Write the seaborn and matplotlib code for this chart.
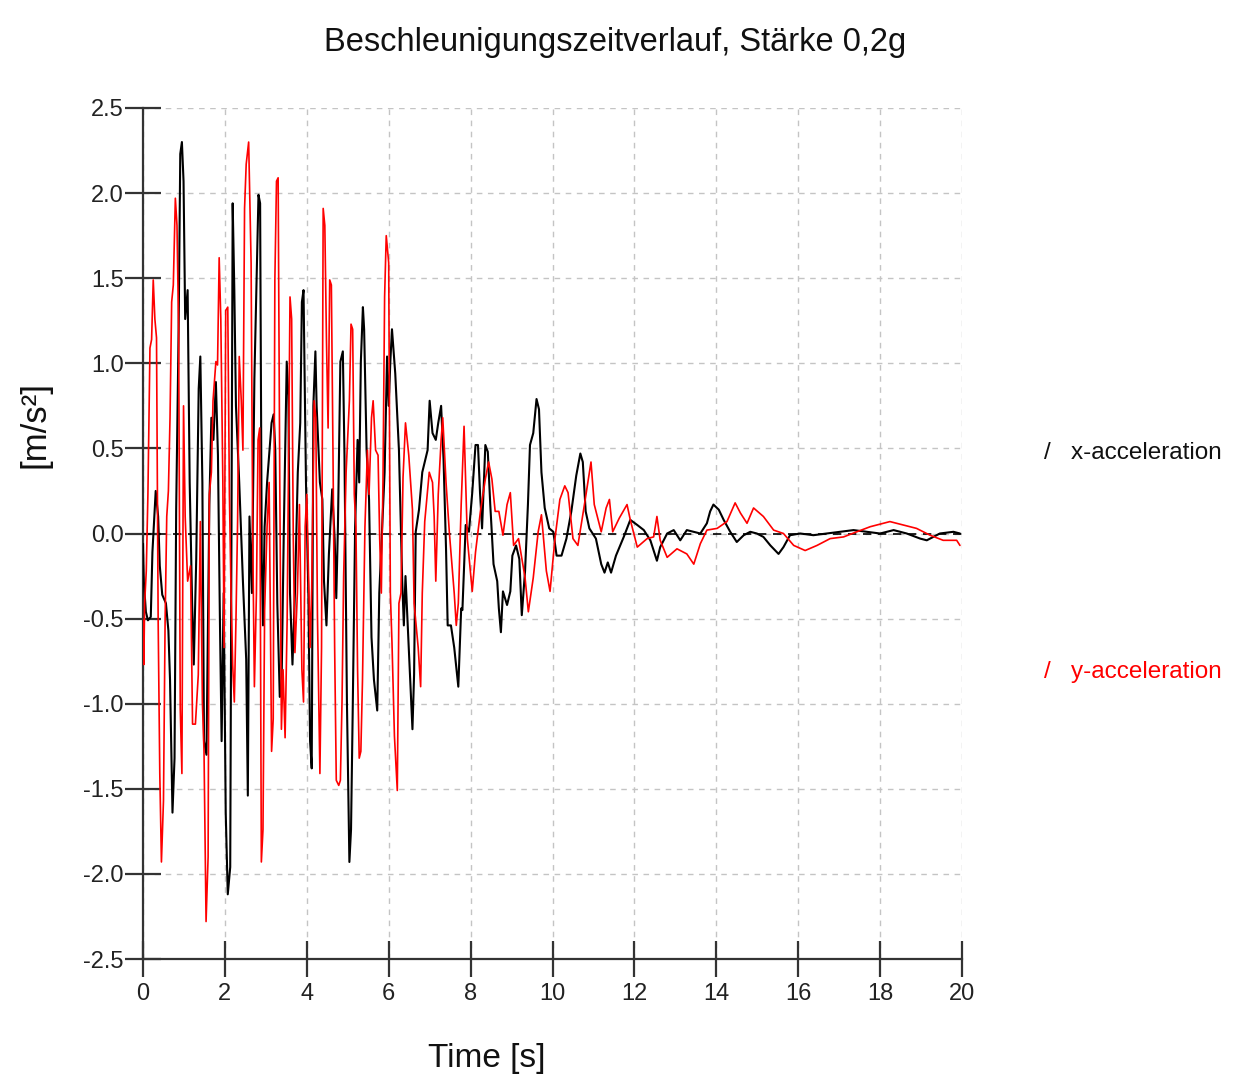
import matplotlib
matplotlib.use("Agg")
import matplotlib.pyplot as plt
import seaborn as sns
import pandas as pd
import numpy as np

# ---------------- data ----------------
x_time = [
    0.00, 0.02, 0.07, 0.12, 0.19, 0.23, 0.31, 0.37, 0.41, 0.47,
    0.56, 0.62, 0.66, 0.72, 0.77, 0.81, 0.87, 0.91, 0.95, 0.99,
    1.03, 1.09, 1.14, 1.20, 1.24, 1.30, 1.36, 1.40, 1.45, 1.49,
    1.55, 1.62, 1.67, 1.72, 1.78, 1.83, 1.88, 1.92, 1.97, 2.02,
    2.07, 2.13, 2.19,
    2.23, 2.27, 2.35, 2.44, 2.52, 2.56, 2.60, 2.66, 2.72, 2.77,
    2.82, 2.86, 2.90, 2.93, 2.97, 3.03, 3.14, 3.19, 3.23, 3.28,
    3.34, 3.38, 3.44, 3.51, 3.55, 3.59, 3.65, 3.71, 3.78, 3.84,
    3.88, 3.92, 3.98, 4.04, 4.08, 4.12, 4.16, 4.21,
    4.24, 4.32, 4.38, 4.42, 4.48, 4.54, 4.62, 4.68, 4.72, 4.76,
    4.82, 4.88, 4.92, 4.98, 5.04, 5.08, 5.12, 5.18, 5.24, 5.28,
    5.32, 5.37, 5.40, 5.46, 5.52, 5.58, 5.64, 5.72, 5.77, 5.84,
    5.90, 5.96, 6.00, 6.04,
    6.08, 6.16, 6.25, 6.33, 6.37, 6.41, 6.49, 6.58, 6.62, 6.66,
    6.74, 6.82, 6.95, 7.00, 7.07, 7.15, 7.21, 7.28, 7.34, 7.40,
    7.44, 7.52, 7.60, 7.70, 7.77,
    7.80, 7.88, 7.96, 8.04, 8.12, 8.18, 8.23, 8.28, 8.36, 8.42,
    8.48, 8.56, 8.65, 8.69, 8.74, 8.79, 8.89, 8.97, 9.02, 9.11,
    9.19, 9.25, 9.33, 9.40, 9.45, 9.53, 9.61, 9.67, 9.73, 9.81,
    9.92, 10.02, 10.10, 10.22, 10.34, 10.46, 10.58, 10.68, 10.74, 10.81,
    10.90, 11.06, 11.19, 11.27, 11.35, 11.43, 11.55,
    11.74, 11.90, 12.07, 12.23, 12.39, 12.47, 12.55, 12.63, 12.80, 12.96,
    13.12, 13.28, 13.45, 13.61, 13.77, 13.85, 13.93, 14.06, 14.18, 14.34,
    14.50, 14.67, 14.83, 14.99, 15.15, 15.32, 15.52, 15.64, 15.80, 16.05,
    16.37, 16.70, 17.02, 17.35, 17.67, 18.00, 18.33, 18.65, 18.98, 19.14,
    19.46, 19.79, 19.95,
]
x_accel = [
    -0.06, -0.28, -0.46, -0.51, -0.49, -0.11, 0.25, 0.10, -0.19, -0.36,
    -0.41, -0.57, -0.86, -1.64, -1.32, 0.14, 1.20, 2.23, 2.30, 2.07,
    1.26, 1.43, 0.30, -0.41, -0.77, -0.15, 0.85, 1.04, 0.30, -1.22,
    -1.30, 0.17, 0.68, 0.55, 0.89, 0.46, -0.54, -1.22, -0.35, -1.64,
    -2.12, -1.96, 1.94,
    1.43, 0.75, 0.30, -0.28, -0.74, -1.54, 0.10, -0.35, 0.91, 1.46,
    1.99, 1.94, -0.15, -0.54, 0.04, 0.30, 0.65, 0.70, 0.49, -0.41,
    -0.96, -0.95, 0.04, 1.01, 0.81, -0.35, -0.77, -0.35, 0.36, 0.65,
    1.36, 1.43, 0.30, -0.38, -1.22, -1.38, 0.75, 1.07,
    0.75, 0.30, 0.20, -0.28, -0.54, -0.12, 0.26, -0.03, -0.38, 0.04,
    1.01, 1.07, 0.46, -0.99, -1.93, -1.74, -1.06, 0.04, 0.55, 0.30,
    1.01, 1.33, 1.20, 0.49, 0.20, -0.61, -0.86, -1.04, -0.35, 0.04,
    0.36, 1.04, 0.75, 1.01,
    1.20, 0.94, 0.49, -0.28, -0.54, -0.25, -0.67, -1.15, -0.83, 0.01,
    0.14, 0.36, 0.49, 0.78, 0.59, 0.55, 0.65, 0.75, 0.43, -0.09,
    -0.54, -0.54, -0.67, -0.90, -0.44,
    -0.45, 0.05, 0.01, 0.24, 0.52, 0.52, 0.24, 0.03, 0.52, 0.48,
    0.17, -0.18, -0.28, -0.44, -0.58, -0.34, -0.42, -0.34, -0.13, -0.07,
    -0.15, -0.48, -0.22, 0.17, 0.52, 0.59, 0.79, 0.73, 0.36, 0.15,
    0.03, 0.01, -0.13, -0.13, -0.03, 0.13, 0.34, 0.47, 0.42, 0.13,
    0.03, -0.03, -0.18, -0.23, -0.17, -0.23, -0.13,
    -0.02, 0.08, 0.05, 0.02, -0.04, -0.10, -0.16, -0.08, 0.00, 0.02,
    -0.04, 0.02, 0.01, 0.00, 0.06, 0.13, 0.17, 0.14, 0.08, 0.01,
    -0.05, -0.01, 0.01, 0.00, -0.02, -0.07, -0.12, -0.08, -0.01, 0.00,
    -0.01, 0.00, 0.01, 0.02, 0.01, 0.00, 0.02, 0.00, -0.03, -0.04,
    0.00, 0.01, 0.00,
]

y_time = [
    0.00, 0.02, 0.04, 0.08, 0.12, 0.17, 0.21, 0.25, 0.29, 0.33,
    0.37, 0.41, 0.45, 0.50, 0.54, 0.58, 0.62, 0.66, 0.70, 0.74,
    0.79, 0.83, 0.87, 0.91, 0.95, 0.99, 1.03, 1.09, 1.16, 1.21,
    1.28, 1.35, 1.40, 1.45, 1.49, 1.54, 1.59, 1.62, 1.67, 1.71,
    1.78, 1.82, 1.86, 1.90, 1.95, 1.98, 2.02, 2.07, 2.11, 2.15,
    2.19, 2.23,
    2.27, 2.31, 2.35, 2.40, 2.44, 2.48, 2.52, 2.58, 2.64, 2.68,
    2.72, 2.77, 2.81, 2.85, 2.89, 2.93, 2.97, 3.03, 3.08, 3.14,
    3.18, 3.22, 3.26, 3.30, 3.34, 3.38, 3.42, 3.47, 3.52, 3.59,
    3.63, 3.67, 3.71, 3.77, 3.82, 3.88, 3.92, 3.96, 4.00,
    4.04, 4.08, 4.12, 4.18, 4.22, 4.26, 4.32, 4.36, 4.40, 4.44,
    4.48, 4.52, 4.56, 4.60, 4.64, 4.68, 4.72, 4.78, 4.82, 4.86,
    4.90, 4.96, 5.04, 5.08, 5.12, 5.16, 5.20, 5.24, 5.28, 5.32,
    5.36, 5.42, 5.48, 5.52, 5.58, 5.62, 5.68, 5.74, 5.78, 5.82,
    5.86, 5.90, 5.94, 6.00, 6.04,
    6.08, 6.14, 6.21, 6.25, 6.30, 6.35, 6.41, 6.49, 6.58, 6.62,
    6.72, 6.78, 6.82, 6.88, 6.99, 7.07, 7.11, 7.15, 7.21, 7.28,
    7.32, 7.40, 7.48, 7.60, 7.65, 7.70, 7.77,
    7.84, 7.92, 8.04, 8.12, 8.24, 8.36, 8.44, 8.52, 8.60, 8.69,
    8.79, 8.89, 8.97, 9.05, 9.17, 9.33, 9.41, 9.53, 9.65, 9.73,
    9.85, 9.94, 10.06, 10.18, 10.30, 10.38, 10.50, 10.62, 10.78, 10.94,
    11.02, 11.19, 11.31, 11.39, 11.47, 11.63,
    11.82, 11.90, 12.07, 12.31, 12.47, 12.55, 12.63, 12.80, 13.04, 13.28,
    13.45, 13.61, 13.77, 14.02, 14.26, 14.46, 14.59, 14.75, 14.91, 15.15,
    15.40, 15.64, 15.89, 16.17, 16.46, 16.78, 17.11, 17.43, 17.76, 18.24,
    18.57, 18.89, 19.22, 19.54, 19.87, 19.95,
]
y_accel = [
    -0.51, -0.77, -0.41, -0.22, 0.23, 1.09, 1.14, 1.49, 1.26, 1.15,
    -0.51, -1.41, -1.93, -1.57, -0.51, 0.10, 0.25, 0.68, 1.36, 1.46,
    1.97, 1.81, 1.20, -1.03, -1.41, 0.75, 0.10, -0.28, -0.19, -1.12,
    -1.12, -0.83, 0.07, -0.99, -1.28, -2.28, -1.90, 0.23, 0.36, 0.78,
    1.01, 0.99, 1.62, 1.26, 0.30, -0.67, 1.31, 1.33, 0.23, -0.35,
    -0.77, -0.99,
    -0.51, 0.07, 1.04, 0.78, 0.49, 1.91, 2.17, 2.30, 1.59, -0.03,
    -0.90, -0.35, 0.55, 0.62, -1.93, -1.74, -0.45, 0.04, 0.30, -1.28,
    -1.09, 1.49, 2.07, 2.09, 0.30, -1.15, -0.80, -1.20, -0.51, 1.39,
    1.26, -0.03, -0.70, -0.35, 0.17, -0.80, -0.99, 0.04, 0.23,
    -0.22, -0.67, -0.32, 0.78, 0.68, -0.48, -1.41, -0.67, 1.91, 1.81,
    1.14, 0.62, 1.49, 1.46, 0.46, -0.67, -1.45, -1.48, -1.45, -0.99,
    -0.25, 0.36, 0.78, 1.23, 1.20, 0.23, 0.04, -0.80, -1.32, -1.28,
    -0.86, 0.04, 0.49, 0.23, 0.68, 0.78, 0.49, 0.46, -0.03, -0.35,
    0.30, 1.39, 1.75, 1.59, -0.35,
    -0.64, -1.19, -1.51, -0.41, -0.35, 0.33, 0.65, 0.46, 0.14, -0.41,
    -0.67, -0.90, -0.35, 0.07, 0.36, 0.30, 0.10, -0.28, 0.23, 0.55,
    0.68, 0.30, 0.01, -0.35, -0.54, -0.41, 0.17,
    0.63, -0.03, -0.34, -0.11, 0.13, 0.32, 0.42, 0.32, 0.13, 0.13,
    -0.01, 0.17, 0.24, -0.07, -0.03, -0.26, -0.46, -0.26, 0.01, 0.11,
    -0.22, -0.34, -0.03, 0.20, 0.28, 0.24, -0.03, -0.07, 0.17, 0.42,
    0.17, 0.01, 0.15, 0.20, 0.01, 0.09,
    0.17, 0.08, -0.08, -0.03, -0.02, 0.10, -0.04, -0.14, -0.09, -0.12,
    -0.18, -0.06, 0.02, 0.03, 0.07, 0.18, 0.12, 0.06, 0.15, 0.10,
    0.02, 0.00, -0.07, -0.10, -0.07, -0.03, -0.02, 0.01, 0.04, 0.07,
    0.05, 0.03, -0.01, -0.04, -0.04, -0.07,
]

x_ticks = [0, 2, 4, 6, 8, 10, 12, 14, 16, 18, 20]
y_ticks = [-2.5, -2.0, -1.5, -1.0, -0.5, 0.0, 0.5, 1.0, 1.5, 2.0, 2.5]
y_tick_labels = ["-2.5", "-2.0", "-1.5", "-1.0", "-0.5", "0.0",
                 "0.5", "1.0", "1.5", "2.0", "2.5"]
series_names = ["x-acceleration", "y-acceleration"]
title = "Beschleunigungszeitverlauf, Stärke 0,2g"
xlabel = "Time [s]"
ylabel = "[m/s²]"

# ---------------- figure ----------------
sns.set_style("white")
plt.rcParams["font.family"] = ["Liberation Sans", "DejaVu Sans"]
plt.rcParams["axes.unicode_minus"] = False

fig = plt.figure(figsize=(12.33, 10.77), dpi=100)
ax = fig.add_axes([143 / 1233, 1 - 959 / 1077, (962 - 143) / 1233, (959 - 108) / 1077])

df_x = pd.DataFrame({"t": x_time, "a": x_accel})
df_y = pd.DataFrame({"t": y_time, "a": y_accel})

sns.lineplot(data=df_x, x="t", y="a", ax=ax, color="black", lw=1.5,
             sort=False, estimator=None, zorder=3)
sns.lineplot(data=df_y, x="t", y="a", ax=ax, color="#ff0000", lw=1.2,
             sort=False, estimator=None, zorder=4)

ax.axhline(0, color="black", lw=1.2, ls=(0, (5, 4)), zorder=2)

ax.set_xlim(0, 20)
ax.set_ylim(-2.5, 2.5)
ax.set_xticks(x_ticks)
ax.set_yticks(y_ticks)
ax.set_yticklabels(y_tick_labels)
ax.grid(True, color="#c4c4c4", lw=1.0, ls=(0, (4, 4)), zorder=0)
ax.set_axisbelow(True)

for s in ["top", "right"]:
    ax.spines[s].set_visible(False)
for s in ["left", "bottom"]:
    ax.spines[s].set_color("#333333")
    ax.spines[s].set_linewidth(1.6)

ax.tick_params(axis="both", which="major", direction="inout", length=26,
               width=1.6, color="#333333", labelsize=17, labelcolor="#222222",
               bottom=True, left=True, top=False, right=False)
ax.tick_params(axis="y", pad=1)
ax.tick_params(axis="x", pad=4)
ax.set_xlabel("")
ax.set_ylabel("")

fig.text(0.499, 1 - 42 / 1077, title, ha="center", va="center",
         fontsize=23.5, color="#111111")
fig.text(487 / 1233, 1 - 1058 / 1077, xlabel, ha="center", va="center",
         fontsize=24, color="#111111")
fig.text(35 / 1233, 1 - 425 / 1077, ylabel, ha="center", va="center",
         rotation=90, fontsize=25, color="#111111")

fig.text(1044 / 1233, 1 - 453 / 1077, "/   " + series_names[0], ha="left",
         va="center", fontsize=17.5, color="#111111")
fig.text(1044 / 1233, 1 - 672 / 1077, "/   " + series_names[1], ha="left",
         va="center", fontsize=17.5, color="#ff0000")

fig.savefig("out.png", dpi=100)
